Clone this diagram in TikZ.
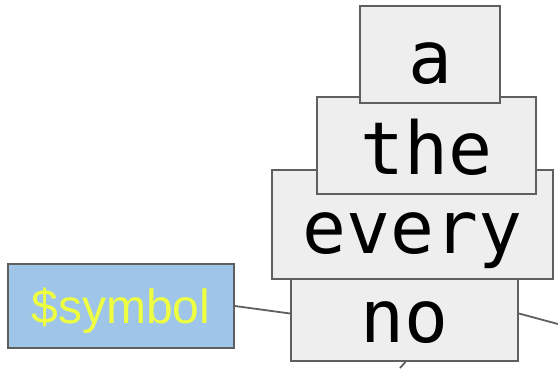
\documentclass[tikz,border=0pt]{standalone}
\usepackage{fontspec}
\setmonofont{DejaVu Sans Mono}
\setsansfont{Liberation Sans}
\usepackage{tikz}

\definecolor{boxgray}{HTML}{EEEEEE}
\definecolor{edgegray}{HTML}{5F5F5F}
\definecolor{keyblue}{HTML}{9FC5E8}
\definecolor{keyyellow}{HTML}{EEFF41}

\tikzset{
  word/.style={draw=edgegray, fill=boxgray, line width=1.8pt, inner sep=0pt,
    text height=57pt, text depth=0pt, font=\fontsize{73}{80}\selectfont\ttfamily},
  keyword/.style={draw=edgegray, fill=keyblue, line width=1.8pt, inner sep=0pt,
    text=keyyellow, text height=34pt, text depth=0pt,
    font=\fontsize{48}{54}\selectfont\sffamily},
  link/.style={draw=edgegray, line width=1.8pt}
}

\begin{document}
\begin{tikzpicture}[x=1pt, y=-1pt]
\useasboundingbox (0,0) rectangle (558,368);
\node[keyword, minimum width=226pt, minimum height=84pt] (symbol) at (121, 306){\$symbol};
\node[word, minimum width=227pt, minimum height=95pt] (no) at (404.5, 313.5){no};
\node[word, minimum width=281pt, minimum height=109pt] (every) at (412.5, 224.5){every};
\node[word, minimum width=219pt, minimum height=97pt] (the) at (426.5, 145.5){the};
\node[word, minimum width=140pt, minimum height=97pt] (a) at (430, 54.5){a};
\coordinate (right end) at (558, 324);
\coordinate (down end) at (400, 368);
\draw[link] (symbol.east) -- (no.west);
\draw[link] (no.east) -- (right end);
\draw[link] (no.south) ++(1,0) -- (down end);
\end{tikzpicture}
\end{document}
